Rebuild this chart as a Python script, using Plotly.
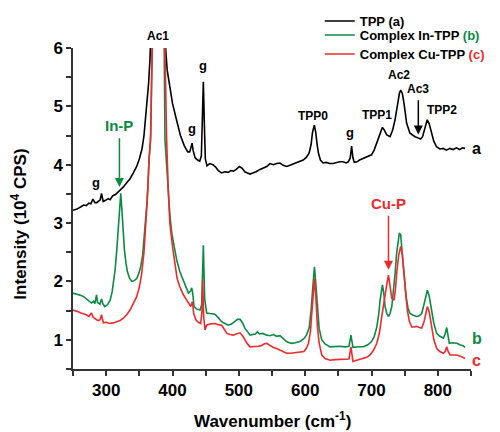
import plotly.graph_objects as go

# ---------------- data ----------------
tpp_x = [250, 256, 262, 266, 270, 274, 277, 280, 283, 286, 289, 291, 293, 295.5, 299, 303, 306, 310, 314, 318,
         321, 326, 331, 336, 341, 346, 350, 354, 357, 360, 362, 364, 366, 367.5, 372, 378, 384, 389, 392, 396,
         400, 406, 412, 418, 423, 426, 428, 429.5, 431, 434, 438, 441, 443.5, 445, 446.5, 448, 449.5, 452, 456,
         461, 465, 469, 474, 479, 484, 488, 492, 496, 501, 505, 509, 513, 517, 521, 526, 532, 537, 542, 547,
         552, 557, 562, 567, 572, 577, 582, 587, 592, 597, 602, 606, 609, 611, 613.8, 616, 618, 620, 623, 627,
         632, 637, 642, 647, 652, 657, 662, 665, 668, 670, 672, 674, 678, 682, 688, 694, 700, 704, 708, 712,
         716.4, 719, 723, 728, 732, 735.5, 739, 742, 744, 746.5, 749, 753, 758, 762, 765.6, 770, 774, 777, 780,
         784, 787, 790.8, 794, 798, 803, 808, 813, 818, 823, 828, 833, 837, 841]
tpp_y = [3.22, 3.24, 3.28, 3.31, 3.30, 3.34, 3.33, 3.41, 3.35, 3.35, 3.38, 3.40, 3.51, 3.37, 3.39, 3.42, 3.40,
         3.47, 3.49, 3.53, 3.57, 3.62, 3.69, 3.76, 3.86, 3.97, 4.10, 4.27, 4.50, 4.85, 5.10, 5.40, 5.80, 6.20,
         8.0, 9.5, 8.0, 6.10, 5.62, 5.30, 5.05, 4.77, 4.50, 4.32, 4.22, 4.22, 4.30, 4.37, 4.25, 4.12, 4.08,
         4.06, 4.15, 4.70, 5.42, 4.70, 4.10, 3.98, 4.02, 4.00, 3.96, 3.90, 3.86, 3.88, 3.87, 3.90, 3.89, 3.92,
         3.97, 3.94, 3.88, 3.86, 3.84, 3.86, 3.88, 3.92, 3.94, 3.97, 4.02, 4.00, 4.02, 4.03, 3.99, 3.97, 3.99,
         4.01, 4.03, 4.05, 4.08, 4.13, 4.20, 4.35, 4.55, 4.68, 4.55, 4.35, 4.20, 4.08, 4.03, 4.04, 4.02, 4.02,
         4.04, 4.05, 4.05, 4.03, 4.05, 4.12, 4.32, 4.12, 4.04, 4.05, 4.08, 4.11, 4.13, 4.17, 4.25, 4.37, 4.52,
         4.64, 4.60, 4.51, 4.48, 4.60, 4.77, 5.05, 5.22, 5.28, 5.22, 5.05, 4.71, 4.54, 4.50, 4.48, 4.46, 4.44,
         4.48, 4.62, 4.77, 4.70, 4.54, 4.40, 4.31, 4.27, 4.28, 4.25, 4.28, 4.26, 4.29, 4.26, 4.29, 4.28]

in_x = [250, 254, 258, 262, 266, 270, 274, 278, 281, 283, 285.5, 287, 290.5, 293, 295, 298, 302, 306, 309, 311,
        313.5, 316, 318, 319.8, 322, 324.4, 326, 327.5, 330, 332, 335, 338.5, 342, 346, 349, 352, 355, 357, 359,
        361, 363, 364.6, 367, 369, 373, 378, 383, 387.5, 388.7, 391, 393.7, 396, 398.8, 402, 406.3, 411, 416.3,
        420, 424, 427, 429, 430.5, 432.5, 436, 441.5, 444, 446.5, 448.5, 451.5, 456, 460, 464, 469, 474, 479,
        484, 489, 494, 498, 502, 506, 509, 513, 517, 521, 525, 528, 531, 536, 542, 547, 552, 557, 562, 567,
        572, 576, 580, 585, 592, 598, 602, 606, 609, 611.5, 614, 616.5, 618.5, 621, 625, 630, 637.5, 645, 652,
        660, 666, 669, 672, 680, 688, 695, 700, 704, 708, 711, 713, 716.5, 718.5, 720.5, 723, 725.6, 728, 730.6,
        733, 735.6, 738, 740, 742, 744, 747, 749.5, 752, 755, 758, 763, 768, 772, 775.7, 779, 782, 784.2, 787,
        790.8, 794, 798.3, 803, 808.3, 811, 813.4, 815.5, 817.3, 822, 828.5, 834, 838, 841]
in_y = [1.80, 1.79, 1.77, 1.76, 1.74, 1.70, 1.66, 1.63, 1.66, 1.62, 1.77, 1.64, 1.61, 1.70, 1.62, 1.57, 1.60,
        1.68, 1.82, 1.97, 2.20, 2.54, 2.90, 3.28, 3.51, 3.11, 2.80, 2.54, 2.30, 2.17, 2.06, 2.00, 2.01, 2.05,
        2.13, 2.25, 2.45, 2.71, 2.98, 3.28, 3.65, 4.08, 4.42, 6.0, 9.0, 12.0, 9.0, 6.0, 4.42, 3.95, 3.57, 3.15,
        2.83, 2.60, 2.37, 2.17, 2.02, 1.92, 1.80, 1.83, 1.89, 1.80, 1.57, 1.53, 1.51, 1.60, 2.62, 1.70, 1.46,
        1.45, 1.44, 1.44, 1.38, 1.31, 1.28, 1.25, 1.27, 1.31, 1.35, 1.35, 1.28, 1.20, 1.13, 1.08, 1.09, 1.10,
        1.14, 1.10, 1.11, 1.08, 1.07, 1.09, 1.06, 1.07, 1.02, 0.97, 0.95, 0.94, 0.95, 0.97, 1.02, 1.08, 1.20,
        1.51, 1.90, 2.25, 1.90, 1.51, 1.20, 1.00, 0.93, 0.88, 0.89, 0.89, 0.88, 0.89, 1.08, 0.87, 0.88, 0.88,
        0.92, 0.97, 1.05, 1.22, 1.45, 1.68, 1.94, 1.80, 1.57, 1.45, 1.40, 1.45, 1.57, 1.80, 2.14, 2.50, 2.72,
        2.83, 2.80, 2.37, 2.00, 1.74, 1.55, 1.45, 1.42, 1.40, 1.41, 1.45, 1.60, 1.78, 1.85, 1.75, 1.51, 1.28,
        1.11, 1.06, 1.03, 1.10, 1.21, 1.05, 0.94, 0.95, 0.94, 0.91, 0.90, 0.87]

cu_x = [250, 254, 258, 262, 266, 270, 274, 278, 280, 283, 286, 289, 291, 293, 295.7, 300, 305, 310.8, 316, 321,
        325.9, 331, 336, 341, 346, 350, 353.6, 357, 360, 362.5, 364.6, 367, 369.5, 374, 379, 384, 388, 391,
        393.5, 396, 400, 403.8, 407, 411, 416, 421.4, 425, 427.5, 430, 432, 435.4, 439, 442.5, 444.5, 445.5,
        447, 449, 451.5, 456, 460, 464, 469, 474, 478, 482, 487, 491.7, 496, 501.8, 506, 509, 513, 517, 521,
        525, 529, 534, 538, 542, 547, 552, 557, 562, 567, 572, 578, 585, 592, 598, 602, 605, 608, 610, 612, 614,
        616, 618.5, 621, 625, 630, 637.5, 645, 652, 660, 666, 669, 672, 680, 687.7, 693, 697.8, 703, 708, 712,
        715.5, 718, 720.5, 723, 725.6, 728, 730.6, 734, 736, 738, 741, 744, 746.5, 749, 751.5, 754, 757, 760.6,
        764, 768, 772, 775.7, 779, 782, 784.2, 787, 790.8, 794, 798.3, 803, 808.3, 811, 813.4, 815.5, 818.4,
        823, 828.5, 834, 838, 841]
cu_y = [1.51, 1.50, 1.48, 1.46, 1.45, 1.43, 1.40, 1.46, 1.39, 1.36, 1.34, 1.33, 1.35, 1.43, 1.29, 1.30, 1.28,
        1.29, 1.31, 1.33, 1.37, 1.43, 1.51, 1.62, 1.74, 1.90, 2.14, 2.50, 3.00, 3.50, 4.08, 4.50, 6.0, 9.0,
        12.0, 9.0, 6.0, 4.50, 3.60, 3.00, 2.60, 2.25, 2.05, 1.91, 1.78, 1.68, 1.60, 1.57, 1.65, 1.45, 1.34,
        1.30, 1.28, 1.50, 2.02, 1.40, 1.17, 1.25, 1.27, 1.28, 1.28, 1.26, 1.25, 1.18, 1.11, 1.09, 1.08, 1.10,
        1.12, 1.06, 1.00, 0.93, 0.88, 0.88, 0.89, 0.89, 0.90, 0.93, 0.94, 0.90, 0.87, 0.85, 0.82, 0.79, 0.77,
        0.77, 0.78, 0.78, 0.80, 0.86, 0.94, 1.15, 1.45, 1.80, 2.05, 1.75, 1.22, 0.95, 0.74, 0.68, 0.65, 0.66,
        0.66, 0.66, 0.67, 0.88, 0.63, 0.66, 0.68, 0.70, 0.74, 0.82, 0.94, 1.12, 1.40, 1.60, 1.74, 1.95, 2.11,
        1.95, 1.71, 1.68, 1.85, 2.14, 2.45, 2.60, 2.45, 2.14, 1.80, 1.51, 1.32, 1.22, 1.22, 1.23, 1.21, 1.20,
        1.30, 1.48, 1.57, 1.48, 1.22, 1.00, 0.85, 0.80, 0.77, 0.80, 0.88, 0.80, 0.74, 0.74, 0.74, 0.72, 0.70,
        0.68]

series_names = ["TPP (a)",
                "Complex In-TPP <span style='color:#0b8a43'>(b)</span>",
                "Complex Cu-TPP <span style='color:#f02a2a'>(c)</span>"]
series_colors = ["#000000", "#0b8a43", "#f02a2a"]
legend_ids = ["legend", "legend2", "legend3"]

# peak labels inside the plot: (text, x, y, colour, size)
peak_labels = [("g", 284.7, 3.70, "#000000", 13),
               ("g", 429, 4.62, "#000000", 13), ("g", 446.5, 5.70, "#000000", 13),
               ("TPP0", 611.4, 4.84, "#000000", 12), ("g", 667.6, 4.56, "#000000", 13),
               ("TPP1", 708, 4.85, "#000000", 12), ("Ac2", 742, 5.53, "#000000", 12),
               ("Ac3", 770.6, 5.29, "#000000", 12), ("TPP2", 806, 4.93, "#000000", 12),
               ("In-P", 319.8, 4.67, "#0b8a43", 15), ("Cu-P", 725.5, 3.33, "#f02a2a", 15)]
# label above the plot (Ac1), x in data units, y in paper units
top_label = ("Ac1", 378, 1.037)
# arrows: (x_tail, y_tail, x_head, y_head, colour)
arrows = [(320.0, 4.48, 320.0, 3.62, "#0b8a43"),
          (770.6, 5.13, 770.6, 4.52, "#000000"),
          (725.6, 3.15, 725.6, 2.20, "#f02a2a")]
# series tags at right end: (text, y in paper units, colour)
end_tags = [("a", 0.6875, "#000000"), ("b", 0.0935, "#0b8a43"), ("c", 0.028, "#f02a2a")]

FONT = "Liberation Sans, Arial, sans-serif"

fig = go.Figure()
for xs, ys, nm, col, lg in [(tpp_x, tpp_y, series_names[0], series_colors[0], legend_ids[0]),
                            (in_x, in_y, series_names[1], series_colors[1], legend_ids[1]),
                            (cu_x, cu_y, series_names[2], series_colors[2], legend_ids[2])]:
    fig.add_trace(go.Scatter(x=xs, y=ys, mode="lines", name=nm, legend=lg,
                             line=dict(color=col, width=1.6)))

ann = []
for t, x, y, c, s in peak_labels:
    ann.append(dict(x=x, y=y, xref="x", yref="y", text=t, showarrow=False,
                    font=dict(family=FONT, size=s, color=c, weight="bold"),
                    yanchor="middle", xanchor="center"))
ann.append(dict(x=top_label[1], y=top_label[2], xref="x", yref="paper", text=top_label[0],
                showarrow=False, font=dict(family=FONT, size=12, color="#000000", weight="bold"),
                yanchor="middle", xanchor="center"))
for xt, yt, xh, yh, c in arrows:
    ann.append(dict(x=xh, y=yh, ax=xt, ay=yt, xref="x", yref="y", axref="x", ayref="y",
                    text="", showarrow=True, arrowhead=2, arrowsize=1.2, arrowwidth=1.5,
                    arrowcolor=c))
for t, y, c in end_tags:
    ann.append(dict(x=1.014, y=y, xref="paper", yref="paper", text=t, showarrow=False,
                    font=dict(family=FONT, size=16, color=c, weight="bold"),
                    xanchor="center", yanchor="middle"))
ann.append(dict(x=-0.138, y=0.45, xref="paper", yref="paper", textangle=-90,
                text="Intensity (10<sup>4</sup> CPS)", showarrow=False,
                font=dict(family=FONT, size=17, color="#000000", weight="bold"),
                xanchor="center", yanchor="middle"))
ann.append(dict(x=0.5, y=-0.160, xref="paper", yref="paper",
                text="Wavenumber (cm<sup>-1</sup>)", showarrow=False,
                font=dict(family=FONT, size=17, color="#000000", weight="bold"),
                xanchor="center", yanchor="middle"))

axis_common = dict(showline=True, linecolor="#333333", linewidth=1.5, ticks="outside",
                   ticklen=5, tickwidth=1.5, tickcolor="#333333", showgrid=False, zeroline=False,
                   tickfont=dict(family=FONT, size=17, color="#000000", weight="bold"),
                   mirror=False)

def legend_box(ytop):
    return dict(x=0.62, y=ytop, xanchor="left", yanchor="top", bgcolor="rgba(0,0,0,0)",
                font=dict(family=FONT, size=13, color="#000000", weight="bold"),
                itemwidth=30)

fig.update_layout(
    width=500, height=432,
    margin=dict(l=73, r=29, t=48, b=63, autoexpand=False),
    paper_bgcolor="white", plot_bgcolor="white",
    xaxis=dict(range=[250, 850], tickvals=[300, 400, 500, 600, 700, 800],
               minor=dict(tickvals=[250, 350, 450, 550, 650, 750, 850], ticks="outside",
                          ticklen=5, tickwidth=1.5, tickcolor="#333333"),
               **axis_common),
    yaxis=dict(range=[0.5, 6], tickvals=[1, 2, 3, 4, 5, 6],
               minor=dict(tickvals=[0.5, 1.5, 2.5, 3.5, 4.5, 5.5], ticks="outside",
                          ticklen=5, tickwidth=1.5, tickcolor="#333333"),
               **axis_common),
    legend=legend_box(1.1308),
    legend2=legend_box(1.0873),
    legend3=legend_box(1.028),
    annotations=ann,
    showlegend=True,
)
fig.write_html("out.html")
